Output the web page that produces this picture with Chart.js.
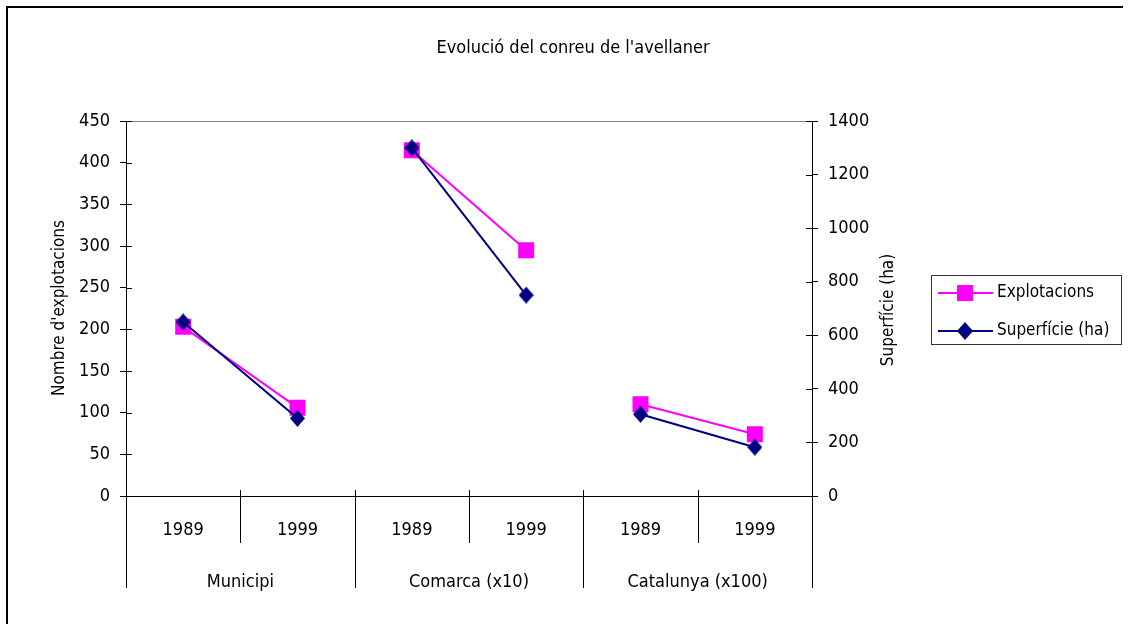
<!DOCTYPE html>
<html>
<head>
<meta charset="utf-8">
<script src="https://cdn.jsdelivr.net/npm/chart.js@4.4.1/dist/chart.umd.min.js"></script>
<style>
html,body{margin:0;padding:0;background:#fff;}
#wrap{width:1131px;height:624px;}
</style>
</head>
<body>
<div id="wrap"><canvas id="c" width="1131" height="624"></canvas></div>
<script>
const categories = ['1989', '1999', '1989', '1999', '1989', '1999'];
const groups = ['Municipi', 'Comarca (x10)', 'Catalunya (x100)'];
const explotacions = [203, 106, 415, 295, 110, 74];
const superficie = [650, 290, 1300, 750, 305, 182];
const leftTicks = [0, 50, 100, 150, 200, 250, 300, 350, 400, 450];
const rightTicks = [0, 200, 400, 600, 800, 1000, 1200, 1400];
const chartTitle = "Evolució del conreu de l'avellaner";
const leftTitle = "Nombre d'explotacions";
const rightTitle = "Superfície (ha)";
const seriesNames = ['Explotacions', 'Superfície (ha)'];

const FONT = '"Liberation Sans Narrow", "DejaVu Sans Condensed", "Arial Narrow", sans-serif';
const FS = 18;
const MAGENTA = '#FF00FF';
const NAVY = '#000080';

Chart.defaults.font.family = FONT;
Chart.defaults.font.size = FS;
Chart.defaults.color = '#000';

function diamond(w, h, color) {
  const c = document.createElement('canvas');
  c.width = w; c.height = h;
  const g = c.getContext('2d');
  g.fillStyle = color;
  g.beginPath();
  g.moveTo(w / 2, 0); g.lineTo(w, h / 2); g.lineTo(w / 2, h); g.lineTo(0, h / 2);
  g.closePath(); g.fill();
  return c;
}
const diamondImg = diamond(15, 17, NAVY);
const legendDiamond = diamond(16, 18, NAVY);

const gap = ctx => (ctx.p0DataIndex % 2 === 1 ? 'rgba(0,0,0,0)' : undefined);

const extras = {
  id: 'extras',
  afterDraw(chart) {
    const ctx = chart.ctx;
    const ca = chart.chartArea;
    const x = chart.scales.x;
    const yl = chart.scales.y;
    const yr = chart.scales.y1;
    ctx.save();
    // outer frame (left + top)
    ctx.strokeStyle = '#000';
    ctx.lineWidth = 2;
    ctx.beginPath();
    ctx.moveTo(7, 624); ctx.lineTo(7, 7); ctx.lineTo(1123, 7);
    ctx.stroke();
    // top plot border
    ctx.strokeStyle = '#808080';
    ctx.lineWidth = 1;
    ctx.beginPath();
    ctx.moveTo(ca.left, ca.top + 0.5); ctx.lineTo(ca.right, ca.top + 0.5);
    ctx.stroke();
    // inner tick halves
    ctx.strokeStyle = '#000';
    ctx.beginPath();
    leftTicks.forEach(v => {
      const py = Math.round(yl.getPixelForValue(v)) + 0.5;
      ctx.moveTo(ca.left, py); ctx.lineTo(ca.left + 6, py);
    });
    rightTicks.forEach(v => {
      const py = Math.round(yr.getPixelForValue(v)) + 0.5;
      ctx.moveTo(ca.right - 6, py); ctx.lineTo(ca.right, py);
    });
    ctx.stroke();
    // x separators
    const step = x.getPixelForValue(1) - x.getPixelForValue(0);
    ctx.beginPath();
    for (let i = 0; i <= categories.length; i++) {
      const px = Math.round(x.getPixelForValue(0) - step / 2 + i * step) + 0.5;
      const isGroup = i % 2 === 0;
      ctx.moveTo(px, ca.bottom - 6);
      ctx.lineTo(px, isGroup ? ca.bottom + 92 : ca.bottom + 47);
    }
    ctx.stroke();
    // group labels
    ctx.fillStyle = '#000';
    ctx.font = FS + 'px ' + FONT;
    ctx.textAlign = 'center';
    ctx.textBaseline = 'middle';
    groups.forEach((gname, gi) => {
      const cx = (x.getPixelForValue(gi * 2) + x.getPixelForValue(gi * 2 + 1)) / 2;
      ctx.fillText(gname, cx, ca.bottom + 86);
    });
    // chart title
    ctx.fillText(chartTitle, 573, 48);
    // axis titles
    ctx.font = '17px ' + FONT;
    ctx.save();
    ctx.translate(60, 308);
    ctx.rotate(-Math.PI / 2);
    ctx.fillText(leftTitle, 0, 0);
    ctx.restore();
    ctx.save();
    ctx.translate(889, 310);
    ctx.rotate(-Math.PI / 2);
    ctx.fillText(rightTitle, 0, 0);
    ctx.restore();
    // legend
    ctx.strokeStyle = '#333';
    ctx.lineWidth = 1;
    ctx.strokeRect(931.5, 275.5, 190, 69);
    const items = [
      { name: seriesNames[0], color: MAGENTA, y: 293, mark: 'sq' },
      { name: seriesNames[1], color: NAVY, y: 331, mark: 'dm' }
    ];
    items.forEach(it => {
      ctx.strokeStyle = it.color;
      ctx.lineWidth = 2;
      ctx.beginPath();
      ctx.moveTo(938, it.y); ctx.lineTo(993, it.y);
      ctx.stroke();
      ctx.fillStyle = it.color;
      if (it.mark === 'sq') ctx.fillRect(957, it.y - 8, 16, 16);
      else ctx.drawImage(legendDiamond, 957, it.y - 9);
      ctx.fillStyle = '#000';
      ctx.textAlign = 'left';
      ctx.fillText(it.name, 997, it.y);
    });
    ctx.restore();
  }
};

new Chart(document.getElementById('c'), {
  type: 'line',
  data: {
    labels: categories,
    datasets: [
      {
        label: seriesNames[0],
        data: explotacions,
        yAxisID: 'y',
        borderColor: MAGENTA,
        backgroundColor: MAGENTA,
        borderWidth: 2,
        pointStyle: 'rect',
        pointRadius: 11.3,
        pointBorderWidth: 0,
        tension: 0,
        order: 2,
        segment: { borderColor: gap }
      },
      {
        label: seriesNames[1],
        data: superficie,
        yAxisID: 'y1',
        borderColor: NAVY,
        backgroundColor: NAVY,
        borderWidth: 2,
        pointStyle: diamondImg,
        pointRadius: 9,
        tension: 0,
        order: 1,
        segment: { borderColor: gap }
      }
    ]
  },
  options: {
    responsive: false,
    animation: false,
    layout: { padding: { top: 121, left: 0, right: 0, bottom: 0 } },
    plugins: { legend: { display: false }, title: { display: false }, tooltip: { enabled: false } },
    scales: {
      x: {
        offset: true,
        grid: { display: false },
        border: { display: true, color: '#000', width: 1 },
        ticks: { padding: 16, color: '#000', maxRotation: 0, autoSkip: false },
        afterFit(s) { s.height = 128; }
      },
      y: {
        position: 'left',
        min: 0, max: 450,
        afterBuildTicks(s) { s.ticks = leftTicks.map(v => ({ value: v })); },
        grid: { drawOnChartArea: false, drawTicks: true, tickLength: 6, color: '#000' },
        border: { display: true, color: '#000', width: 1 },
        ticks: { padding: 10, color: '#000', callback: v => String(v) },
        afterFit(s) { s.width = 126; }
      },
      y1: {
        position: 'right',
        min: 0, max: 1400,
        afterBuildTicks(s) { s.ticks = rightTicks.map(v => ({ value: v })); },
        grid: { drawOnChartArea: false, drawTicks: true, tickLength: 6, color: '#000' },
        border: { display: true, color: '#000', width: 1 },
        ticks: { padding: 10, color: '#000', callback: v => String(v) },
        afterFit(s) { s.width = 1131 - 812; }
      }
    }
  },
  plugins: [extras]
});
</script>
</body>
</html>
